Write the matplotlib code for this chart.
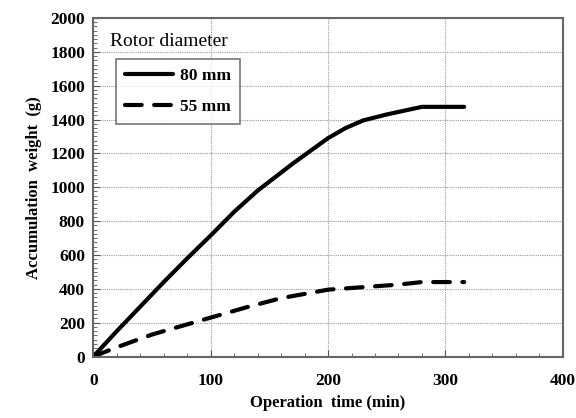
import matplotlib
matplotlib.use("Agg")
import matplotlib.pyplot as plt
from matplotlib.ticker import MultipleLocator

plt.rcParams['font.family'] = ['Liberation Serif', 'DejaVu Serif']
plt.rcParams['font.weight'] = 'bold'

time_80 = [0, 20, 40, 60, 80, 100, 120, 140, 170, 200, 215, 230, 250, 270, 280, 300, 316]
weight_80 = [0, 150, 295, 440, 580, 715, 855, 980, 1140, 1290, 1350, 1395, 1430, 1460, 1475, 1475, 1475]
time_55 = [0, 20, 50, 80, 100, 130, 160, 200, 230, 260, 280, 300, 316]
weight_55 = [0, 55, 130, 190, 230, 290, 345, 395, 410, 425, 440, 440, 440]

series_labels = ['80 mm', '55 mm']
legend_title = 'Rotor diameter'
x_label = 'Operation  time (min)'
y_label = 'Accumulation  weight  (g)'

fig = plt.figure(figsize=(5.76, 4.18), dpi=100)
ax = fig.add_axes([0.162, 0.147, 0.815, 0.81])

ax.plot(time_80, weight_80, color='black', lw=3, solid_capstyle='round', label=series_labels[0])
ax.plot(time_55, weight_55, color='black', lw=3, dashes=(4, 3), dash_capstyle='round', label=series_labels[1])

ax.set_xlim(0, 400)
ax.set_ylim(0, 2000)
ax.xaxis.set_major_locator(MultipleLocator(100))
ax.xaxis.set_minor_locator(MultipleLocator(20))
ax.yaxis.set_major_locator(MultipleLocator(200))
ax.yaxis.set_minor_locator(MultipleLocator(25))
ax.tick_params(which='both', direction='in', color='#555555')
ax.tick_params(which='major', length=5, labelsize=12.5, pad=6)
ax.tick_params(which='minor', length=3)
ax.tick_params(axis='x', pad=12)
ax.grid(True, which='major', color='#999999', ls=(0, (1, 1)), lw=0.8)
ax.set_axisbelow(True)
for s in ax.spines.values():
    s.set_color('#666666')
    s.set_linewidth(1.5)

ax.set_xlabel(x_label, fontsize=12, fontweight='bold', labelpad=4)
ax.set_ylabel(y_label, fontsize=12, fontweight='bold', labelpad=6)

ax.text(0.035, 0.905, legend_title, transform=ax.transAxes, fontsize=14, fontweight='normal',
        ha='left', va='bottom')
leg = ax.legend(loc='upper left', bbox_to_anchor=(0.03, 0.905), fontsize=12.5, frameon=True,
                fancybox=False, edgecolor='#555555', handlelength=2.8, borderpad=0.5,
                labelspacing=0.9, handletextpad=0.4, prop={'weight': 'bold', 'size': 12.5})
leg.get_frame().set_linewidth(1.2)

fig.savefig('out.png', dpi=100)
